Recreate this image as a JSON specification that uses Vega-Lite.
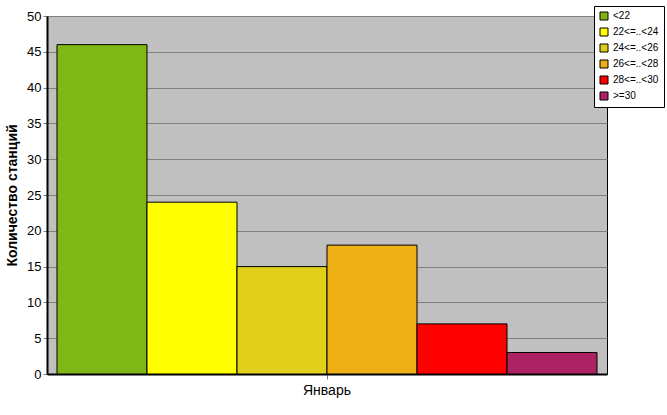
{
  "$schema": "https://vega.github.io/schema/vega-lite/v6.json",
  "width": 560,
  "height": 358,
  "autosize": {"type": "none"},
  "padding": {"left": 47, "top": 16, "right": 60, "bottom": 41},
  "background": "white",
  "config": {
    "view": {"fill": "#C0C0C0", "stroke": "#000000", "strokeWidth": 1},
    "font": "Liberation Sans"
  },
  "data": {
    "values": [
      {"month": "Январь", "range": "<22", "count": 46},
      {"month": "Январь", "range": "22<=..<24", "count": 24},
      {"month": "Январь", "range": "24<=..<26", "count": 15},
      {"month": "Январь", "range": "26<=..<28", "count": 18},
      {"month": "Январь", "range": "28<=..<30", "count": 7},
      {"month": "Январь", "range": ">=30", "count": 3}
    ]
  },
  "mark": {"type": "bar", "stroke": "#000000", "strokeWidth": 1},
  "encoding": {
    "x": {
      "field": "month", "type": "nominal",
      "scale": {"paddingInner": 0, "paddingOuter": 0.0185},
      "axis": {"title": null, "labelAngle": 0, "labelFontSize": 14, "labelColor": "#000", "domainColor": "#000", "domainWidth": 2, "tickColor": "#808080", "tickSize": 5, "labelPadding": 4}
    },
    "xOffset": {
      "field": "range", "type": "nominal",
      "sort": ["<22", "22<=..<24", "24<=..<26", "26<=..<28", "28<=..<30", ">=30"],
      "scale": {"paddingInner": 0, "paddingOuter": 0}
    },
    "y": {
      "field": "count", "type": "quantitative",
      "scale": {"domain": [0, 50], "nice": false},
      "axis": {"title": "Количество станций", "titleFontSize": 14, "titleFontWeight": "bold", "titleColor": "#000", "titlePadding": 7, "values": [0,5,10,15,20,25,30,35,40,45,50], "labelFontSize": 13, "labelColor": "#000", "domainColor": "#000", "domainWidth": 2, "tickColor": "#808080", "tickSize": 4, "gridColor": "#808080", "gridWidth": 1, "labelPadding": 2}
    },
    "color": {
      "field": "range", "type": "nominal",
      "sort": ["<22", "22<=..<24", "24<=..<26", "26<=..<28", "28<=..<30", ">=30"],
      "scale": {"domain": ["<22", "22<=..<24", "24<=..<26", "26<=..<28", "28<=..<30", ">=30"], "range": ["#7FB717", "#FFFF00", "#E0D01A", "#EFB015", "#FF0000", "#AD2262"]},
      "legend": {"title": null, "orient": "none", "legendX": 547, "legendY": -10, "fillColor": "#FFFFFF", "strokeColor": "#000000", "padding": 5, "symbolType": "square", "symbolSize": 64, "symbolStrokeColor": "#000", "symbolStrokeWidth": 1, "labelFontSize": 10, "labelColor": "#000", "rowPadding": 4, "labelLimit": 80}
    }
  }
}
